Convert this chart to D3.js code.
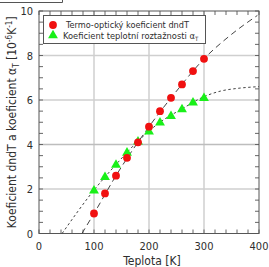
<!DOCTYPE html>
<html>
<head>
<meta charset="utf-8">
<script src="https://cdn.jsdelivr.net/npm/d3@7"></script>
<style>
  body { margin: 0; background: #fff; }
  svg { display: block; font-family: "DejaVu Sans Condensed", "DejaVu Sans", sans-serif; }
</style>
</head>
<body>
<div id="chart"></div>
<script>
// measured data
const temps = [100, 120, 140, 160, 180, 200, 220, 240, 260, 280, 300];
const dndT = [0.9, 1.8, 2.6, 3.4, 4.1, 4.8, 5.5, 6.1, 6.7, 7.3, 7.85];
const alphaT = [1.95, 2.55, 3.1, 3.65, 4.15, 4.6, 5.0, 5.3, 5.6, 5.9, 6.1];

// fitted curves
const dndTFitT = [78, 100, 140, 200, 250, 300, 350, 397];
const dndTFitV = [0, 0.9, 2.6, 4.8, 6.4, 7.85, 8.95, 9.8];
const alphaFitT = [42, 100, 140, 180, 220, 260, 300, 330, 360, 400];
const alphaFitV = [0, 1.95, 3.1, 4.15, 5.0, 5.6, 6.15, 6.4, 6.52, 6.6];

const xTicks = [0, 100, 200, 300, 400];
const yTicks = [0, 2, 4, 6, 8, 10];

const width = 269, height = 267;
const pLeft = 39, pRight = 259, pTop = 11, pBottom = 233.5;
const textColor = "#2e2e2e";

const svg = d3.select("#chart").append("svg")
    .attr("width", width)
    .attr("height", height)
    .attr("viewBox", `0 0 ${width} ${height}`);

const x = d3.scaleLinear().domain([0, 400]).range([pLeft, pRight]);
const y = d3.scaleLinear().domain([0, 10]).range([pBottom, pTop]);

// stray frame piece at the top left
svg.append("path")
    .attr("d", "M0,2.5H62.5V0")
    .attr("fill", "none")
    .attr("stroke", "#555")
    .attr("stroke-width", 1);

// grid
svg.append("g").selectAll("line")
    .data([100, 200, 300])
    .join("line")
    .attr("x1", d => x(d)).attr("x2", d => x(d))
    .attr("y1", pTop).attr("y2", pBottom)
    .attr("stroke", "#cfcfcf")
    .attr("stroke-width", 1.5);
svg.append("g").selectAll("line")
    .data([2, 4, 6, 8])
    .join("line")
    .attr("x1", pLeft).attr("x2", pRight)
    .attr("y1", d => y(d)).attr("y2", d => y(d))
    .attr("stroke", d => d === 4 ? "#bdbdbd" : "#cfcfcf")
    .attr("stroke-width", 1.5);

// inner ticks on all four sides
const xMinor = d3.range(0, 401, 20);
const yMinor = d3.range(0, 10.01, 0.5);
const tickLen = 4;
const ticks = svg.append("g").attr("stroke", "#666").attr("stroke-width", 1);
xMinor.forEach(t => {
    ticks.append("line").attr("x1", x(t)).attr("x2", x(t)).attr("y1", pBottom).attr("y2", pBottom - tickLen);
    ticks.append("line").attr("x1", x(t)).attr("x2", x(t)).attr("y1", pTop).attr("y2", pTop + tickLen);
});
yMinor.forEach(t => {
    ticks.append("line").attr("x1", pLeft).attr("x2", pLeft + tickLen).attr("y1", y(t)).attr("y2", y(t));
    ticks.append("line").attr("x1", pRight).attr("x2", pRight - tickLen).attr("y1", y(t)).attr("y2", y(t));
});

// frame
svg.append("rect")
    .attr("x", pLeft).attr("y", pTop)
    .attr("width", pRight - pLeft).attr("height", pBottom - pTop)
    .attr("fill", "none")
    .attr("stroke", "#555")
    .attr("stroke-width", 1);

// tick labels
svg.append("g").selectAll("text")
    .data(xTicks)
    .join("text")
    .attr("x", d => x(d))
    .attr("y", pBottom + 16)
    .attr("text-anchor", "middle")
    .attr("font-size", 11)
    .attr("fill", textColor)
    .text(d => d);
svg.append("g").selectAll("text")
    .data(yTicks)
    .join("text")
    .attr("x", pLeft - 6)
    .attr("y", d => y(d) + 4)
    .attr("text-anchor", "end")
    .attr("font-size", 11)
    .attr("fill", textColor)
    .text(d => d);

// axis titles
svg.append("text")
    .attr("x", (pLeft + pRight) / 2 + 3)
    .attr("y", 264.5)
    .attr("text-anchor", "middle")
    .attr("font-size", 12)
    .attr("fill", textColor)
    .text("Teplota [K]");

const yTitle = svg.append("text")
    .attr("transform", `translate(16, ${(pTop + pBottom) / 2}) rotate(-90)`)
    .attr("text-anchor", "middle")
    .attr("font-size", 12)
    .attr("fill", textColor);
yTitle.append("tspan").text("Koeficient dndT a koeficient α");
yTitle.append("tspan").attr("font-size", 8).attr("dy", 3).text("T");
yTitle.append("tspan").attr("dy", -3).text(" [10");
yTitle.append("tspan").attr("font-size", 8).attr("dy", -4).text("-6");
yTitle.append("tspan").attr("dy", 4).text("K");
yTitle.append("tspan").attr("font-size", 8).attr("dy", -4).text("-1");
yTitle.append("tspan").attr("dy", 4).text("]");

// fit curves
const fitLine = d3.line()
    .x(d => x(d[0]))
    .y(d => y(d[1]))
    .curve(d3.curveMonotoneX);

svg.append("path")
    .datum(dndTFitT.map((t, i) => [t, dndTFitV[i]]))
    .attr("d", fitLine)
    .attr("fill", "none")
    .attr("stroke", "#444")
    .attr("stroke-width", 1)
    .attr("stroke-dasharray", "6,4");

svg.append("path")
    .datum(alphaFitT.map((t, i) => [t, alphaFitV[i]]))
    .attr("d", fitLine)
    .attr("fill", "none")
    .attr("stroke", "#444")
    .attr("stroke-width", 1)
    .attr("stroke-dasharray", "2.5,2.5");

// markers
const tri = d3.symbol().type(d3.symbolTriangle).size(42);
svg.append("g").selectAll("path")
    .data(temps.map((t, i) => [t, alphaT[i]]))
    .join("path")
    .attr("d", tri)
    .attr("transform", d => `translate(${x(d[0])},${y(d[1]) + 0.5})`)
    .attr("fill", "#19f019");

svg.append("g").selectAll("circle")
    .data(temps.map((t, i) => [t, dndT[i]]))
    .join("circle")
    .attr("cx", d => x(d[0]))
    .attr("cy", d => y(d[1]))
    .attr("r", 3.9)
    .attr("fill", "#f01010");

// legend
const legend = svg.append("g");
legend.append("rect")
    .attr("x", 43.5).attr("y", 15.5)
    .attr("width", 162).attr("height", 28)
    .attr("fill", "#fff")
    .attr("stroke", "#555")
    .attr("stroke-width", 1);
legend.append("circle")
    .attr("cx", 53).attr("cy", 25)
    .attr("r", 3.9)
    .attr("fill", "#f01010");
legend.append("path")
    .attr("d", tri)
    .attr("transform", "translate(53,35.5)")
    .attr("fill", "#19f019");
legend.append("text")
    .attr("x", 66).attr("y", 28)
    .attr("font-size", 9)
    .attr("textLength", 123)
    .attr("lengthAdjust", "spacingAndGlyphs")
    .attr("fill", textColor)
    .text("Termo-optický koeficient dndT");
const leg2 = legend.append("text")
    .attr("x", 63).attr("y", 38.5)
    .attr("font-size", 9)
    .attr("fill", textColor);
leg2.append("tspan")
    .attr("textLength", 132)
    .attr("lengthAdjust", "spacingAndGlyphs")
    .text("Koeficient teplotní roztažnosti α");
leg2.append("tspan").attr("font-size", 6).attr("dy", 2).text("T");
</script>
</body>
</html>
